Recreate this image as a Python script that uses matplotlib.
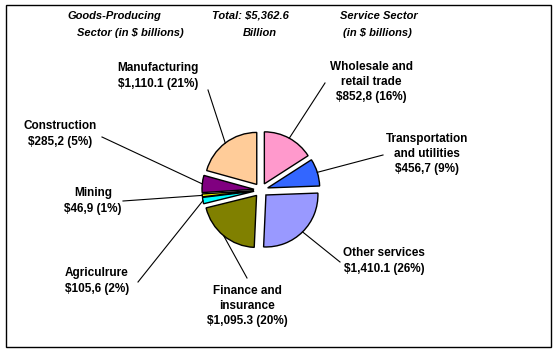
import numpy as np
import matplotlib
matplotlib.use("Agg")
import matplotlib.pyplot as plt
from matplotlib.patches import Rectangle

# ─── data ─────────────────────────────────────────────────────────────────────
sectors = ["Wholesale and\nretail trade", "Transportation\nand utilities",
           "Other services", "Finance and\ninsurance", "Agriculrure",
           "Mining", "Construction", "Manufacturing"]
values = [852.8, 456.7, 1410.1, 1095.3, 105.6, 46.9, 285.2, 1110.1]
value_text = ["$852,8", "$456,7", "$1,410.1", "$1,095.3", "$105,6",
              "$46,9", "$285,2", "$1,110.1"]
colors = ["#FF99CC", "#3366FF", "#9999FF", "#808000", "#00FFFF",
          "#FFFF00", "#800080", "#FFCC99"]

# ─── layout (figure pixels, y measured from top) ──────────────────────────────
W, H = 555, 351
center = (261, 190)
radius = 52
gap = 7          # explode distance in pixels
label_xy = [(371, 82), (427, 154), (384, 261), (247, 306),
            (97, 281), (93, 201), (60, 134), (158, 76)]
leader_start = [(325, 83), (383, 155), (340, 262), (247, 278),
                (138, 282), (123, 201), (102, 137), (208, 90)]

FONT = "Liberation Sans"

fig = plt.figure(figsize=(W / 100, H / 100), dpi=100)
ax = fig.add_axes([0, 0, 1, 1])


def fy(y):
    return H - y


total = sum(values)
wedges, _ = ax.pie(values, colors=colors, startangle=90, counterclock=False,
                   explode=[gap] * len(values), radius=radius,
                   center=(center[0], fy(center[1])),
                   wedgeprops=dict(edgecolor="black", linewidth=1.0),
                   frame=True)
ax.set_xlim(0, W)
ax.set_ylim(0, H)
ax.axis("off")

for w, name, vt, v, (lx, ly), (sx, sy) in zip(wedges, sectors, value_text, values,
                                              label_xy, leader_start):
    mid = np.deg2rad((w.theta1 + w.theta2) / 2)
    ex = w.center[0] + w.r * np.cos(mid)
    ey = w.center[1] + w.r * np.sin(mid)
    ax.plot([sx, ex], [fy(sy), ey], color="black", lw=0.8)
    pct = round(100 * v / total)
    ax.text(lx, fy(ly), f"{name}\n{vt} ({pct}%)", ha="center", va="center",
            fontsize=8.5, fontweight="bold", family=FONT, linespacing=1.35)

# header texts
heads = [(67, 16, "Goods-Producing"), (77, 33, "Sector (in $ billions)"),
         (212, 16, "Total: $5,362.6"), (243, 33, "Billion"),
         (340, 16, "Service Sector"), (343, 33, "(in $ billions)")]
for x, y, s in heads:
    ax.text(x, fy(y), s, ha="left", va="center", fontsize=8,
            fontweight="bold", style="italic", family=FONT)

fig.add_artist(Rectangle((5.5 / W, 1 - 347 / H), 545 / W, 342 / H,
                         transform=fig.transFigure, fill=False,
                         edgecolor="black", lw=1.0))

fig.savefig("out.png", dpi=100)
